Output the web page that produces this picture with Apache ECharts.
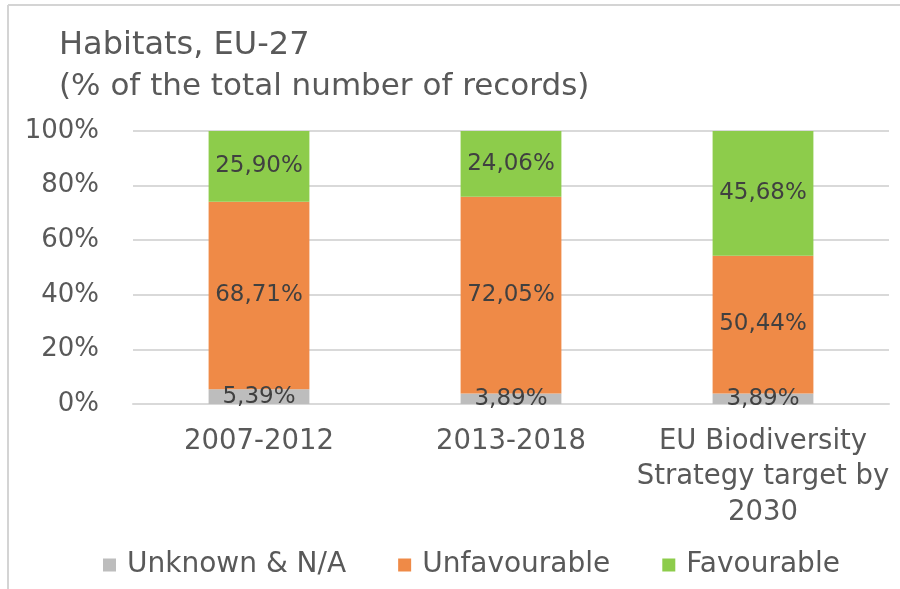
<!DOCTYPE html>
<html>
<head>
<meta charset="utf-8">
<script src="https://cdn.jsdelivr.net/npm/echarts@6/dist/echarts.min.js"></script>
<style>
  html, body { margin: 0; padding: 0; background: #ffffff; }
  #chart { width: 900px; height: 589px; }
</style>
</head>
<body>
<div id="chart"></div>
<script>
// Conservation status of habitats, EU-27 (% of records)
const categories = ['2007-2012', '2013-2018', 'EU Biodiversity\nStrategy target by\n2030'];
const unknownNA = [5.39, 3.89, 3.89];
const unfavourable = [68.71, 72.05, 50.44];
const favourable = [25.90, 24.06, 45.68];
const yTicks = [0, 20, 40, 60, 80, 100];

const FONT = 'DejaVu Sans';
const TEXT = '#595959';

function pctComma(v) {
  return v.toFixed(2).replace('.', ',') + '%';
}

const labelStyle = {
  show: true,
  position: 'inside',
  color: '#404040',
  fontFamily: FONT,
  fontSize: 23,
  formatter: p => pctComma(p.value)
};

function barSeries(name, data, color) {
  return {
    name: name,
    type: 'bar',
    stack: 'total',
    barWidth: '40%',
    data: data,
    itemStyle: { color: color },
    label: labelStyle
  };
}

const chart = echarts.init(document.getElementById('chart'), null, { renderer: 'canvas' });
chart.setOption({
  animation: false,
  backgroundColor: '#ffffff',
  textStyle: { fontFamily: FONT },
  title: {
    text: 'Habitats, EU-27',
    subtext: '(% of the total number of records)',
    left: 54,
    top: 25,
    itemGap: 9,
    textStyle: { fontFamily: FONT, fontSize: 32, fontWeight: 'normal', color: TEXT },
    subtextStyle: { fontFamily: FONT, fontSize: 31, color: TEXT }
  },
  grid: { left: 133, right: 11, top: 131, bottom: 185, containLabel: false },
  legend: {
    left: 98,
    top: 546,
    itemWidth: 13,
    itemHeight: 13,
    itemGap: 52,
    icon: 'rect',
    textStyle: { fontFamily: FONT, fontSize: 28, color: TEXT, padding: [0, 0, 0, 6] },
    data: ['Unknown & N/A', 'Unfavourable', 'Favourable']
  },
  xAxis: {
    type: 'category',
    data: categories,
    axisLine: { show: true, lineStyle: { color: '#d9d9d9', width: 2 } },
    axisTick: { show: false },
    axisLabel: {
      interval: 0,
      color: TEXT,
      fontFamily: FONT,
      fontSize: 27.5,
      lineHeight: 35.5,
      margin: 20
    }
  },
  yAxis: {
    type: 'value',
    min: 0,
    max: 100,
    interval: 20,
    axisLine: { show: false },
    axisTick: { show: false },
    splitLine: { lineStyle: { color: '#d9d9d9', width: 2 } },
    axisLabel: {
      color: TEXT,
      fontFamily: FONT,
      fontSize: 26,
      margin: 34,
      formatter: v => (yTicks.includes(v) ? v + '%' : '')
    }
  },
  series: [
    barSeries('Unknown & N/A', unknownNA, '#bdbdbd'),
    barSeries('Unfavourable', unfavourable, '#ef8a47'),
    barSeries('Favourable', favourable, '#8dcc4b')
  ],
  graphic: [
    { type: 'line', shape: { x1: 8, y1: 5, x2: 8, y2: 589 }, style: { stroke: '#d4d4d4', lineWidth: 2 } },
    { type: 'line', shape: { x1: 8, y1: 5, x2: 900, y2: 5 }, style: { stroke: '#d4d4d4', lineWidth: 2 } }
  ]
});
</script>
</body>
</html>
